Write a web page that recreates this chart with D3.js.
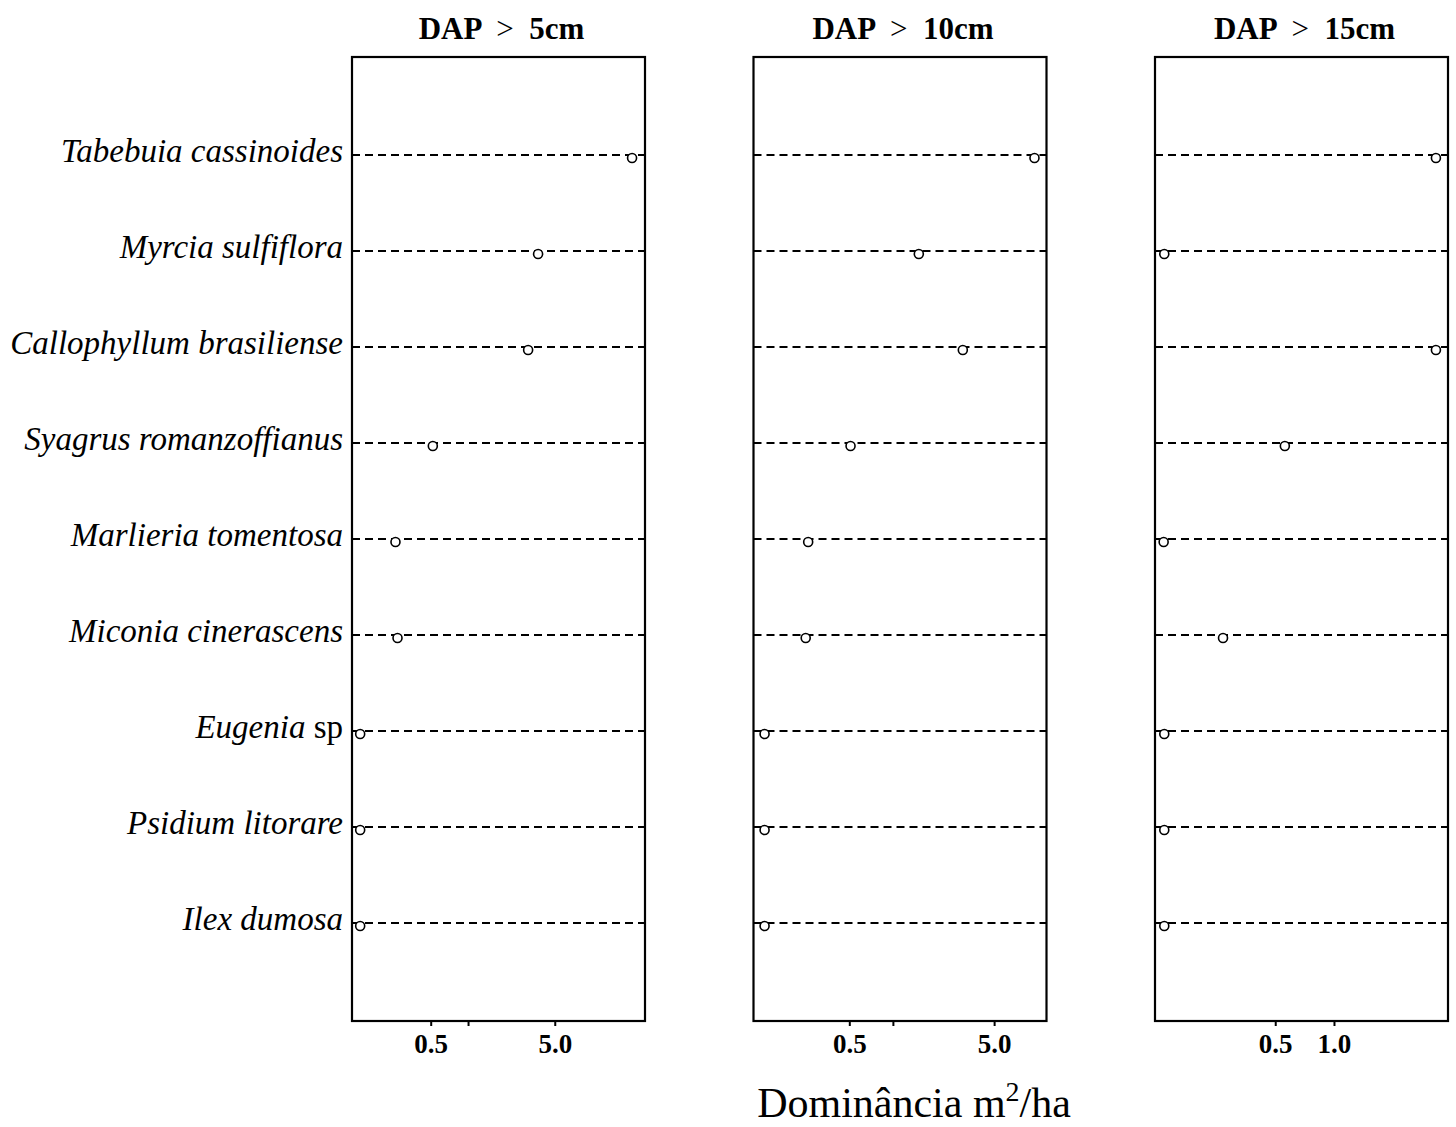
<!DOCTYPE html>
<html>
<head>
<meta charset="utf-8">
<script src="https://cdn.jsdelivr.net/npm/d3@7"></script>
<style>
  body { margin: 0; background: #fff; }
  svg { display: block; }
  text { font-family: "Liberation Serif", "Times New Roman", serif; fill: #000; }
</style>
</head>
<body>
<div id="chart"></div>
<script>
// species, top to bottom
const species = [
  "Tabebuia cassinoides",
  "Myrcia sulfiflora",
  "Callophyllum brasiliense",
  "Syagrus romanzoffianus",
  "Marlieria tomentosa",
  "Miconia cinerascens",
  "Eugenia sp",
  "Psidium litorare",
  "Ilex dumosa"
]

// dominance m2/ha per diameter class
const dap5 = [21.0, 3.67, 3.05, 0.52, 0.26, 0.27, 0.135, 0.135, 0.135]
const dap10 = [9.5, 1.51, 3.04, 0.51, 0.26, 0.25, 0.13, 0.13, 0.13]
const dap15 = [3.33, 0.135, 3.33, 0.56, 0.134, 0.27, 0.135, 0.135, 0.135]

const panelTitles = ["5cm", "10cm", "15cm"]

// axis domains and ticks of each panel
const domains = [[0.116, 26.7], [0.109, 11.5], [0.121, 3.84]]
const tickValues = [[0.5, 1, 5], [0.5, 1, 5], [0.5, 1]]
const tickLabels = [["0.5", "", "5.0"], ["0.5", "", "5.0"], ["0.5", "1.0"]]

const series = [dap5, dap10, dap15]

const width = 1456
const height = 1127
const plotTop = 57
const plotBottom = 1021
const panelLeft = [352, 753.5, 1155]
const panelWidth = 293

const svg = d3.select("#chart")
    .append("svg")
    .attr("width", width)
    .attr("height", height)

const y = d3.scalePoint()
    .domain(species)
    .range([plotTop, plotBottom])
    .padding(1.02)

// species labels
const labels = svg.append("g")
    .selectAll("text")
    .data(species)
    .join("text")
    .attr("x", panelLeft[0] - 9)
    .attr("y", d => y(d) + 7)
    .attr("text-anchor", "end")
    .style("font-size", "33px")
    .style("font-style", "italic")

labels.each(function(d) {
  const t = d3.select(this)
  if (d.endsWith(" sp")) {
    t.append("tspan").text(d.slice(0, -3) + " ")
    t.append("tspan").style("font-style", "normal").text("sp")
  } else {
    t.text(d)
  }
})

series.forEach((values, i) => {
  const x0 = panelLeft[i]
  const x = d3.scaleLog()
      .domain(domains[i])
      .range([x0, x0 + panelWidth])

  const g = svg.append("g")

  // dashed guide lines
  g.selectAll("line.guide")
      .data(species)
      .join("line")
      .attr("class", "guide")
      .attr("x1", x0)
      .attr("x2", x0 + panelWidth)
      .attr("y1", d => y(d))
      .attr("y2", d => y(d))
      .attr("stroke", "#000")
      .attr("stroke-width", 2)
      .attr("stroke-dasharray", "8,5")

  // frame
  g.append("rect")
      .attr("x", x0)
      .attr("y", plotTop)
      .attr("width", panelWidth)
      .attr("height", plotBottom - plotTop)
      .attr("fill", "none")
      .attr("stroke", "#000")
      .attr("stroke-width", 2.2)

  // points
  g.selectAll("circle")
      .data(values)
      .join("circle")
      .attr("cx", d => x(d))
      .attr("cy", (d, j) => y(species[j]) + 3)
      .attr("r", 4.5)
      .attr("fill", "#fff")
      .attr("stroke", "#000")
      .attr("stroke-width", 1.6)

  // x axis
  const axis = d3.axisBottom(x)
      .tickValues(tickValues[i])
      .tickFormat((d, k) => tickLabels[i][k])
      .tickSizeInner(5)
      .tickSizeOuter(0)

  const ax = g.append("g")
      .attr("transform", `translate(0,${plotBottom})`)
      .call(axis)

  ax.select(".domain").remove()
  ax.selectAll(".tick line").attr("stroke", "#000").attr("stroke-width", 2)
  ax.selectAll(".tick text")
      .attr("y", 32)
      .attr("dy", 0)
      .style("font-family", "'Liberation Serif', serif")
      .style("font-size", "27px")
      .style("font-weight", "bold")

  // title
  const title = g.append("text")
      .attr("x", x0 + panelWidth / 2 + 3)
      .attr("y", 39)
      .attr("text-anchor", "middle")
      .style("font-size", "31px")
      .style("font-weight", "bold")
      .style("white-space", "pre")
  title.append("tspan").text("DAP ")
  title.append("tspan").style("font-weight", "normal").text(" > ")
  title.append("tspan").text(" " + panelTitles[i])
})

// x axis title
const xt = svg.append("text")
    .attr("x", 914)
    .attr("y", 1117)
    .attr("text-anchor", "middle")
    .style("font-size", "42px")
xt.append("tspan").text("Dominância m")
xt.append("tspan").attr("dy", -16).style("font-size", "28px").text("2")
xt.append("tspan").attr("dy", 16).text("/ha")
</script>
</body>
</html>
